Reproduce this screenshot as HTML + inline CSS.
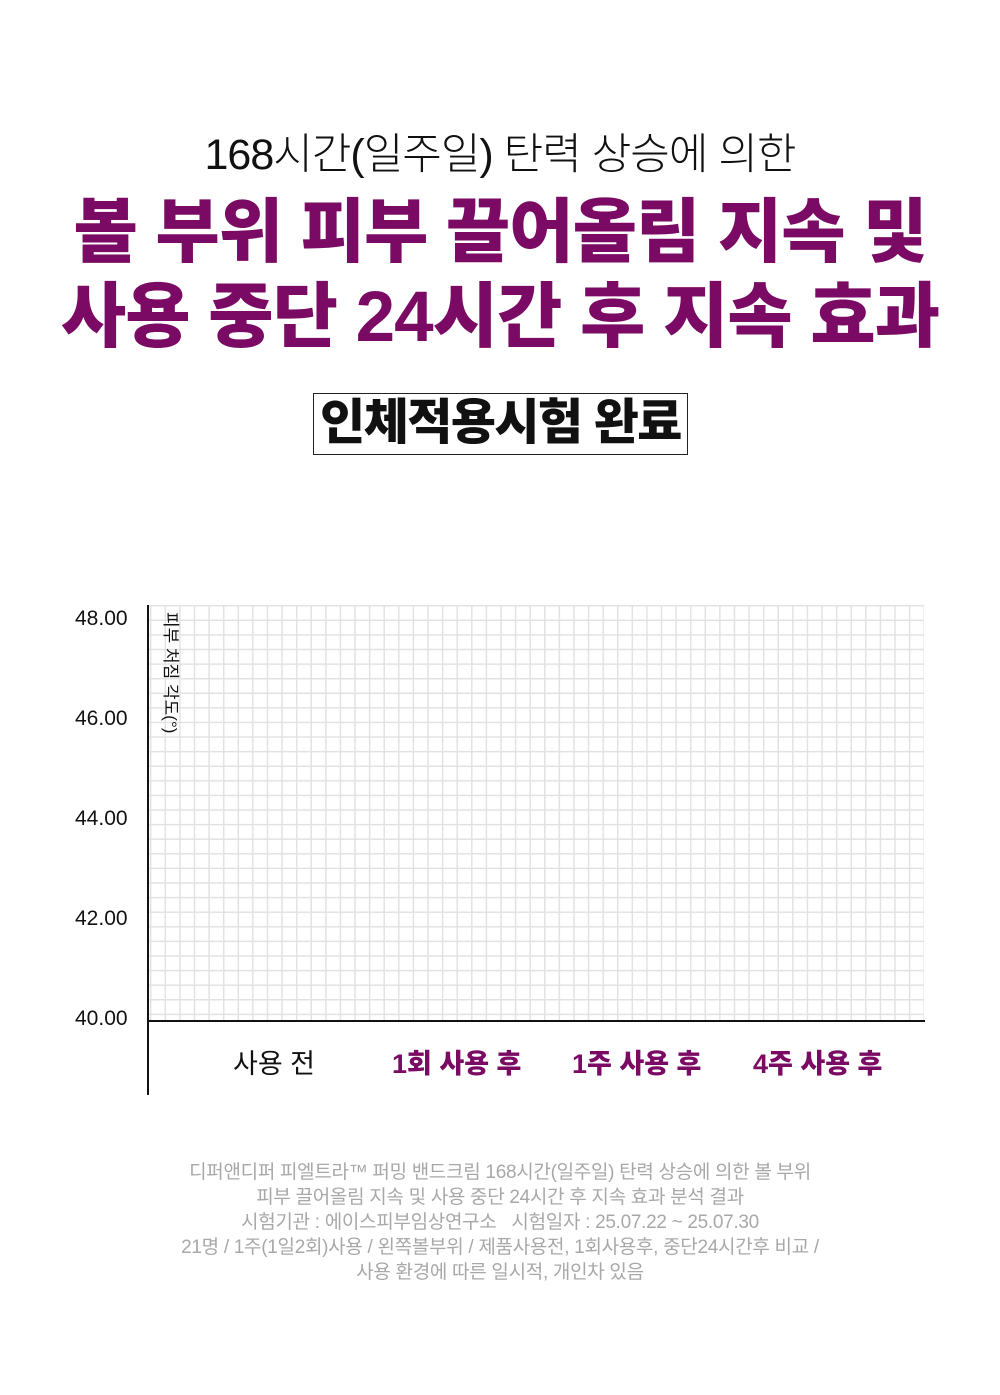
<!DOCTYPE html>
<html><head><meta charset="utf-8"><style>
*{margin:0;padding:0;box-sizing:border-box}
body{width:1000px;height:1395px;background:#fff;position:relative;overflow:hidden;font-family:"Liberation Sans","Noto Sans CJK KR",sans-serif;color:#111}
.a{position:absolute;white-space:nowrap}
.c{left:0;width:1000px;text-align:center}
.p{color:#7a0a63;font-weight:900}
</style></head><body>
<div class="a c" style="top:120px;font-size:43px;font-weight:300;letter-spacing:-1px">168시간(일주일) 탄력 상승에 의한</div>
<div class="a c p" style="top:192px;font-size:70px;line-height:80px;letter-spacing:-1px">볼 부위 피부 끌어올림 지속 및</div>
<div class="a c p" style="top:278px;font-size:71px;line-height:80px;letter-spacing:-1px">사용 중단 24시간 후 지속 효과</div>
<div class="a" style="left:313px;top:393px;width:375px;height:62px;border:1.5px solid #222;text-align:center;font-size:49px;font-weight:900;line-height:58px;letter-spacing:-1.5px">인체적용시험 완료</div>

<div class="a" style="left:149px;top:605px;width:775px;height:416px;background-image:linear-gradient(to right,#e2e2e2 1.5px,transparent 1.5px),linear-gradient(to bottom,#e2e2e2 1.5px,transparent 1.5px);background-size:14.6px 14.6px;background-position:1px 0"></div>
<div class="a" style="left:147px;top:605px;width:2px;height:490px;background:#111"></div>
<div class="a" style="left:147px;top:1020px;width:778px;height:2px;background:#111"></div>
<div class="a" style="left:75px;top:607px;font-size:21px">48.00</div>
<div class="a" style="left:75px;top:707px;font-size:21px">46.00</div>
<div class="a" style="left:75px;top:807px;font-size:21px">44.00</div>
<div class="a" style="left:75px;top:907px;font-size:21px">42.00</div>
<div class="a" style="left:75px;top:1007px;font-size:21px">40.00</div>
<div class="a" style="left:181px;top:612px;font-size:17px;line-height:22px;transform-origin:0 0;transform:rotate(90deg)">피부 처짐 각도(°)</div>
<div class="a" style="left:233px;top:1042px;font-size:27px">사용 전</div>
<div class="a p" style="left:392px;top:1042px;font-size:27px">1회 사용 후</div>
<div class="a p" style="left:572px;top:1042px;font-size:27px">1주 사용 후</div>
<div class="a p" style="left:753px;top:1042px;font-size:27px">4주 사용 후</div>

<div class="a c" style="top:1160px;font-size:19px;line-height:25px;color:#a8a8a8;white-space:normal;letter-spacing:-0.3px">디퍼앤디퍼 피엘트라™ 퍼밍 밴드크림 168시간(일주일) 탄력 상승에 의한 볼 부위<br>피부 끌어올림 지속 및 사용 중단 24시간 후 지속 효과 분석 결과<br>시험기관 : 에이스피부임상연구소&nbsp;&nbsp;&nbsp;시험일자 : 25.07.22 ~ 25.07.30<br>21명 / 1주(1일2회)사용 / 왼쪽볼부위 / 제품사용전, 1회사용후, 중단24시간후 비교 /<br>사용 환경에 따른 일시적, 개인차 있음</div>
</body></html>
